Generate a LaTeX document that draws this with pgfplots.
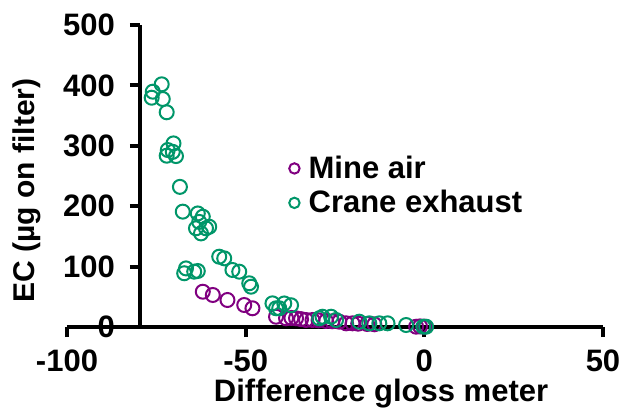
\documentclass[border=0pt]{standalone}
\usepackage{pgfplots}
\pgfplotsset{compat=1.18}
\usepackage{fontspec}
\setmainfont{Liberation Sans}
\definecolor{mpurple}{RGB}{128,0,128}
\definecolor{mgreen}{RGB}{0,150,105}
\begin{document}
\begin{tikzpicture}
\useasboundingbox (-33.5bp,-44bp) rectangle (277bp,163.5bp);
\begin{axis}[
  at={(0,0)}, anchor=south west,
  scale only axis, width=268bp, height=151bp,
  xmin=-100, xmax=50, ymin=0, ymax=500,
  axis x line=bottom, axis y line=left,
  axis y line shift=-36.5bp,
  axis line style={-, line width=2bp, black},
  xtick={-100,-50,0,50}, ytick={0,100,200,300,400,500},
  tick align=outside, major tick length=5bp,
  tick style={line width=2bp, black},
  /pgf/number format/assume math mode=true,
  tick label style={font=\fontsize{15.5bp}{17bp}\selectfont\bfseries},
  yticklabel style={xshift=-4bp},
  xticklabel style={yshift=-3bp},
  clip=false,
  legend style={at={(rel axis cs:0.412,0.468)}, anchor=west, draw=none, fill=none,
    inner sep=0pt, row sep=0.5bp, font=\fontsize{15.5bp}{17bp}\selectfont\bfseries,
    /tikz/every odd column/.append style={column sep=2bp}},
  legend cell align=left,
  legend image code/.code={\draw[#1] (0bp,0bp) circle[radius=2.6bp];},
]
\addplot[only marks, mark=o, mark size=3.5bp, mpurple, line width=1bp] coordinates {
(-62.0,58.4) (-59.2,53) (-55.1,44.7) (-50.4,36.4) (-48.1,31)
(-41.5,17) (-38.7,14.4) (-37.2,15) (-35.9,14.4) (-34.5,13) (-33.1,11.6) (-31.3,11.6)
(-29.6,11) (-27.5,10) (-25.8,9.5) (-23.8,8.8) (-21.9,6.1) (-20.1,6.1) (-18.5,5.5)
(-16,5) (-14,4.5) (-2.3,0.5) (-1.2,1) (0,0.5)
};
\addlegendentry{Mine air}
\addplot[only marks, mark=o, mark size=3.5bp, mgreen, line width=1bp] coordinates {
(-73.5,401.8) (-76.0,389.6) (-76.3,379.6) (-73.2,377.5) (-72.1,355.5)
(-70.2,304) (-71.8,293) (-70.4,290) (-69.5,283) (-72.1,283.6)
(-68.4,232)
(-67.6,191) (-63.4,188) (-62.0,182.6) (-63.9,163.4) (-61.1,163.4) (-62.5,155) (-60.2,166) (-63.0,174)
(-66.7,97) (-64.4,91.6) (-67.2,89) (-63.4,92.7)
(-57.4,116.4) (-56.0,113.7) (-53.7,94.4) (-51.8,91.6) (-49.0,72.4) (-48.5,66.7)
(-42.5,39.2) (-41.5,31) (-39.2,39) (-37.3,36) (-40.6,31)
(-28.5,17) (-26.1,17) (-29.4,14.4) (-24.7,11.6)
(-18.2,8.8) (-15.4,6.1) (-12.6,6.1) (-10.3,6.1) (-5.1,3.3) (0.5,0.5) (-0.3,0.5)
};
\addlegendentry{Crane exhaust}
\node[font=\fontsize{15.5bp}{17bp}\selectfont\bfseries, anchor=base] at (rel axis cs:0.586,-0.247) {Difference gloss meter};
\node[font=\fontsize{15bp}{17bp}\selectfont\bfseries, rotate=90] at (rel axis cs:-0.0746,0.452) {EC (µg on filter)};
\end{axis}
\end{tikzpicture}
\end{document}
